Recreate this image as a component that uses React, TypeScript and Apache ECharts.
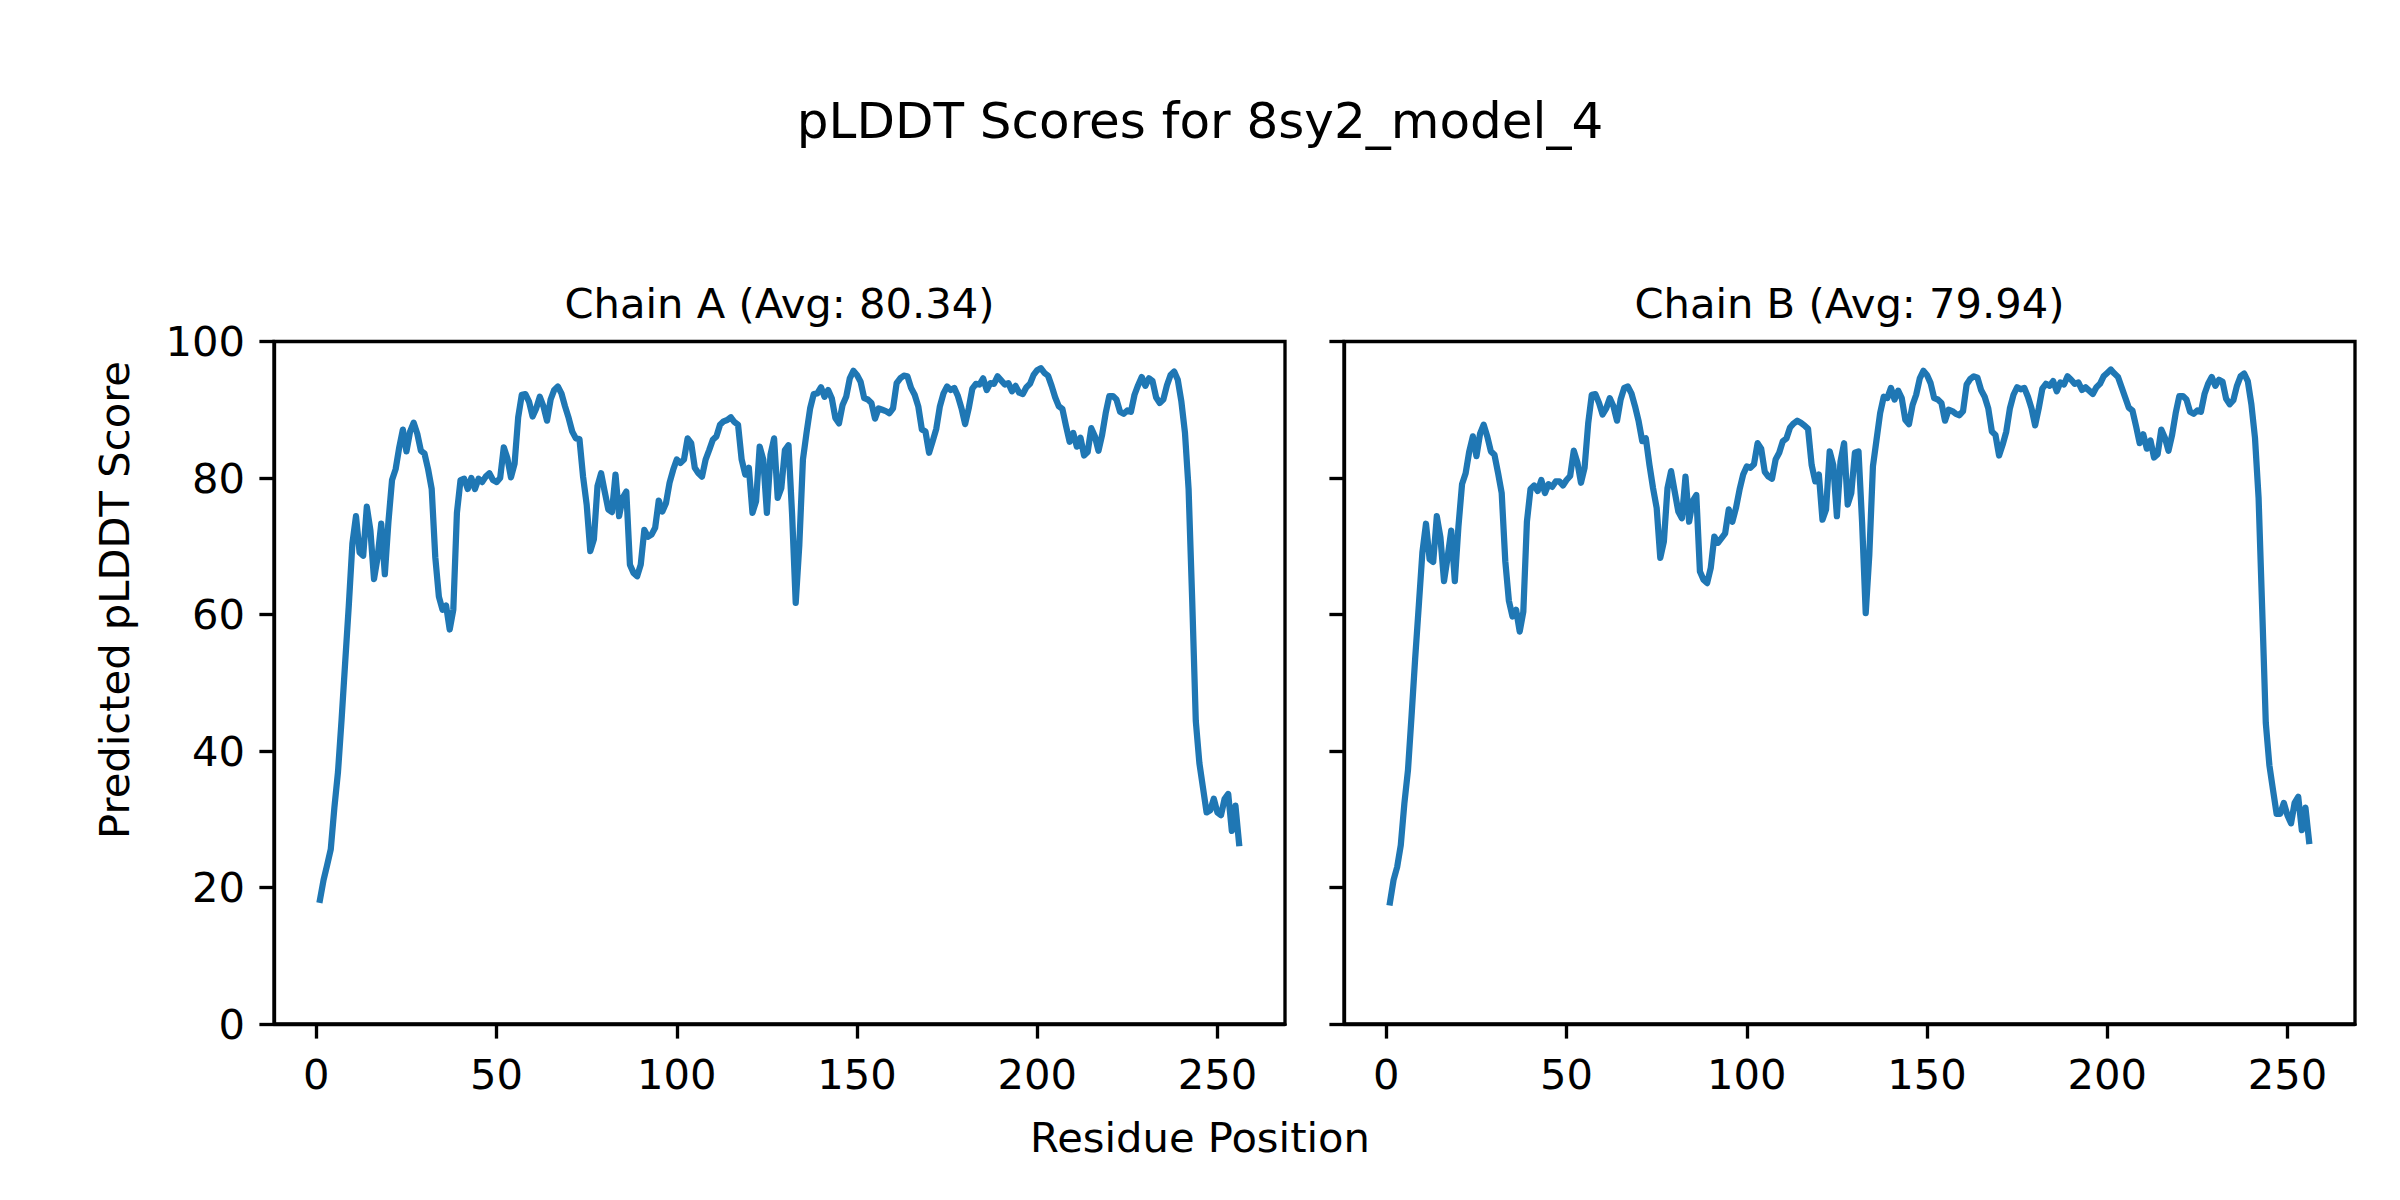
import React, { useEffect, useRef } from "react";
import * as echarts from "echarts";

const FONT = "DejaVu Sans";

const chainA = [
  18.2, 21.1, 23.3, 25.6, 31.7, 36.9, 44.6, 53.0, 61.3, 70.4,
  74.4, 69.1, 68.6, 75.8, 72.3, 65.2, 68.4, 73.3, 65.9, 73.6,
  79.7, 81.3, 84.5, 87.1, 83.9, 86.8, 88.1, 86.5, 84.0, 83.6,
  81.3, 78.4, 68.4, 62.6, 60.7, 61.3, 57.8, 60.7, 74.9, 79.7,
  79.9, 78.4, 80.0, 78.4, 79.9, 79.4, 80.2, 80.7, 79.7, 79.4,
  80.0, 84.5, 82.9, 80.1, 82.1, 88.9, 92.2, 92.3, 91.2, 89.0,
  90.2, 91.9, 90.5, 88.4, 91.5, 92.9, 93.4, 92.4, 90.5, 88.8,
  86.8, 85.8, 85.7, 80.2, 76.1, 69.3, 71.0, 78.8, 80.7, 78.0,
  75.4, 75.0, 80.5, 74.4, 77.1, 78.0, 67.3, 66.1, 65.6, 67.3,
  72.4, 71.4, 71.7, 72.7, 76.7, 75.1, 76.3, 79.3, 81.2, 82.7,
  82.2, 82.7, 85.8, 85.1, 81.5, 80.7, 80.2, 82.7, 84.1, 85.6,
  86.1, 87.8, 88.3, 88.5, 88.9, 88.2, 87.8, 82.7, 80.5, 81.5,
  74.9, 76.6, 84.6, 82.7, 74.9, 83.4, 85.8, 77.1, 78.5, 84.1,
  84.8, 74.6, 61.7, 70.2, 82.7, 86.6, 90.2, 92.3, 92.4, 93.3,
  91.9, 92.9, 91.7, 88.8, 88.0, 90.7, 91.9, 94.6, 95.7, 95.1,
  94.1, 91.7, 91.5, 91.0, 88.7, 90.2, 90.0, 89.8, 89.5, 90.2,
  93.9, 94.6, 95.0, 94.9, 93.2, 92.2, 90.5, 87.1, 86.8, 83.7,
  85.4, 87.2, 90.5, 92.4, 93.4, 92.9, 93.2, 92.0, 90.2, 87.9,
  90.2, 93.1, 93.8, 93.7, 94.6, 92.9, 93.9, 93.8, 94.9, 94.3,
  93.7, 93.9, 92.7, 93.5, 92.5, 92.3, 93.3, 93.8, 95.1, 95.8,
  96.1, 95.4, 95.0, 93.5, 91.8, 90.5, 90.1, 87.6, 85.3, 86.6,
  84.6, 85.9, 83.3, 83.8, 87.3, 86.1, 84.0, 86.3, 89.5, 92.0,
  92.0, 91.5, 89.7, 89.4, 89.9, 89.7, 92.2, 93.6, 94.8, 93.5,
  94.6, 94.2, 91.8, 91.0, 91.5, 93.6, 95.1, 95.6, 94.4, 91.2,
  86.6, 78.4, 62.1, 44.4, 38.2, 34.6, 31.0, 31.3, 33.0, 31.0,
  30.6, 33.0, 33.7, 28.3, 32.0, 26.5,
];

const chainB = [
  17.8, 21.1, 23.0, 26.2, 32.3, 37.2, 45.2, 53.6, 61.3, 69.1,
  73.3, 68.1, 67.7, 74.4, 71.3, 64.9, 68.4, 72.3, 64.9, 72.9,
  79.1, 80.7, 83.9, 86.1, 83.2, 86.5, 87.8, 86.1, 83.9, 83.4,
  80.7, 77.8, 67.8, 62.0, 59.7, 60.7, 57.5, 60.4, 73.6, 78.4,
  78.9, 78.1, 79.7, 77.8, 79.1, 78.7, 79.5, 79.5, 78.9, 79.7,
  80.3, 84.0, 82.3, 79.3, 81.5, 88.0, 92.2, 92.3, 91.0, 89.3,
  90.2, 91.7, 90.5, 88.4, 91.5, 93.2, 93.4, 92.4, 90.5, 88.3,
  85.4, 85.8, 81.9, 78.5, 75.6, 68.3, 70.7, 78.5, 81.0, 78.0,
  75.1, 74.1, 80.2, 73.6, 76.6, 77.5, 66.3, 65.1, 64.6, 66.8,
  71.4, 70.5, 71.2, 71.9, 75.4, 73.6, 75.6, 78.3, 80.5, 81.7,
  81.5, 82.0, 85.1, 84.3, 80.9, 80.2, 79.9, 82.7, 83.7, 85.4,
  85.8, 87.4, 88.0, 88.4, 88.1, 87.7, 87.2, 81.9, 79.5, 80.5,
  73.9, 75.4, 83.9, 81.9, 74.4, 82.4, 85.1, 76.1, 77.8, 83.7,
  83.9, 73.4, 60.2, 68.8, 81.7, 85.6, 89.5, 91.9, 91.7, 93.2,
  91.5, 92.8, 91.7, 88.5, 87.9, 90.7, 92.2, 94.6, 95.7, 95.1,
  93.9, 91.7, 91.5, 91.0, 88.4, 90.0, 89.8, 89.4, 89.2, 89.8,
  93.7, 94.5, 94.9, 94.7, 92.9, 91.9, 90.2, 86.8, 86.3, 83.3,
  84.9, 86.8, 90.2, 92.2, 93.3, 93.0, 93.2, 91.9, 90.2, 87.7,
  90.2, 93.1, 93.8, 93.5, 94.2, 92.7, 94.0, 93.7, 94.9, 94.4,
  93.8, 94.0, 92.9, 93.3, 92.8, 92.3, 93.3, 93.8, 94.9, 95.4,
  95.9, 95.3, 94.8, 93.3, 91.8, 90.3, 89.9, 87.6, 85.1, 86.4,
  84.3, 85.5, 83.0, 83.5, 87.1, 85.9, 84.0, 86.3, 89.5, 92.0,
  92.0, 91.5, 89.7, 89.4, 89.9, 89.7, 92.3, 93.8, 94.8, 93.5,
  94.4, 94.1, 91.6, 90.8, 91.4, 93.5, 94.9, 95.3, 94.2, 90.8,
  85.9, 77.1, 60.8, 44.1, 37.9, 34.3, 30.8, 30.8, 32.4, 30.6,
  29.4, 32.4, 33.3, 28.4, 31.7, 26.8,
];

const residues = chainA.map((_, i) => i + 1);
const xTicks = [0, 50, 100, 150, 200, 250];
const chainTitles = ["Chain A (Avg: 80.34)", "Chain B (Avg: 79.94)"];
const mainTitle = "pLDDT Scores for 8sy2_model_4";
const xLabel = "Residue Position";
const yLabel = "Predicted pLDDT Score";

const GRID_LEFTS = [274, 1344];
const GRID_TOP = 341.5;
const GRID_W = 1011;
const GRID_H = 682.5;

export default function App() {
  const ref = useRef<HTMLDivElement>(null);

  useEffect(() => {
    document.body.style.margin = "0";
    if (!ref.current) return;
    const chart = echarts.init(ref.current, null, { renderer: "svg" });

    const tickStyle = { width: 3.33, color: "#000" };
    const labelStyle = { fontSize: 41.67, color: "#000", fontFamily: FONT };

    const option = {
      animation: false,
      backgroundColor: "#ffffff",
      textStyle: { fontFamily: FONT },
      grid: GRID_LEFTS.map((left) => ({
        left,
        top: GRID_TOP,
        width: GRID_W,
        height: GRID_H,
        show: true,
        borderColor: "#000",
        borderWidth: 3.33,
        backgroundColor: "transparent",
        containLabel: false,
      })),
      xAxis: [0, 1].map((i) => ({
        gridIndex: i,
        type: "value",
        min: -11.75,
        max: 268.75,
        axisLine: { show: true, onZero: false, lineStyle: tickStyle },
        axisTick: { show: true, length: 14.6, lineStyle: tickStyle, customValues: xTicks },
        axisLabel: { ...labelStyle, margin: 29, customValues: xTicks },
        splitLine: { show: false },
      })),
      yAxis: [0, 1].map((i) => ({
        gridIndex: i,
        type: "value",
        min: 0,
        max: 100,
        interval: 20,
        axisLine: { show: true, onZero: false, lineStyle: tickStyle },
        axisTick: { show: true, length: 14.6, lineStyle: tickStyle },
        axisLabel: { ...labelStyle, show: i === 0, margin: 29 },
        splitLine: { show: false },
      })),
      series: [chainA, chainB].map((vals, i) => ({
        type: "line",
        xAxisIndex: i,
        yAxisIndex: i,
        data: vals.map((v, k) => [residues[k], v]),
        showSymbol: false,
        symbol: "none",
        z: 1,
        lineStyle: { color: "#1f77b4", width: 6.25, join: "round", cap: "square" },
      })),
      graphic: [
        {
          type: "text",
          x: 1200,
          y: 121,
          style: {
            text: mainTitle,
            fontSize: 50,
            fontFamily: FONT,
            fill: "#000",
            align: "center",
            verticalAlign: "middle",
          },
        },
        ...GRID_LEFTS.map((left, i) => ({
          type: "text",
          x: left + GRID_W / 2,
          y: 303,
          style: {
            text: chainTitles[i],
            fontSize: 41.67,
            fontFamily: FONT,
            fill: "#000",
            align: "center",
            verticalAlign: "middle",
          },
        })),
        {
          type: "text",
          x: 1200,
          y: 1137,
          style: {
            text: xLabel,
            fontSize: 41.67,
            fontFamily: FONT,
            fill: "#000",
            align: "center",
            verticalAlign: "middle",
          },
        },
        {
          type: "text",
          x: 114,
          y: 600,
          rotation: Math.PI / 2,
          style: {
            text: yLabel,
            fontSize: 41.67,
            fontFamily: FONT,
            fill: "#000",
            align: "center",
            verticalAlign: "middle",
          },
        },
      ],
    };

    chart.setOption(option as any);
    return () => chart.dispose();
  }, []);

  return <div ref={ref} style={{ width: 2400, height: 1200 }} />;
}
